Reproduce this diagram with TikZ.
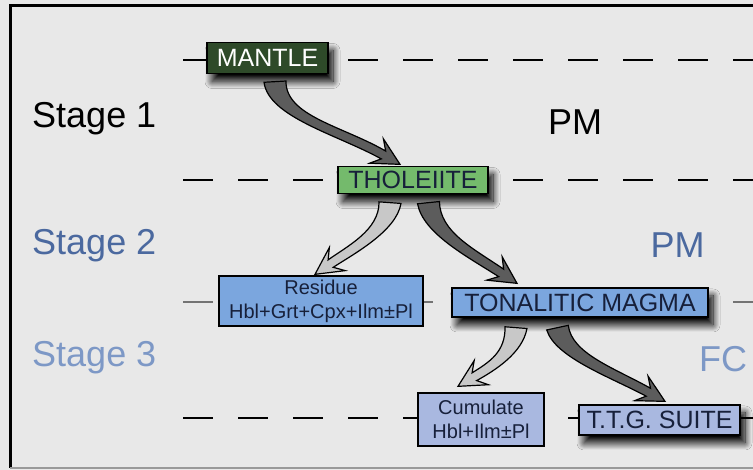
\documentclass[tikz,border=0pt]{standalone}
\usepackage{fontspec}
\setmainfont{Liberation Sans}
\usetikzlibrary{calc,shadows.blur}

\definecolor{bgpanel}{HTML}{E8E8E8}
\definecolor{mantlegreen}{HTML}{2E4A29}
\definecolor{tholgreen}{HTML}{74BA6C}
\definecolor{magmablue}{HTML}{7BA6DE}
\definecolor{cumblue}{HTML}{A9B8E0}
\definecolor{boxtext}{HTML}{17203A}
\definecolor{stagetwo}{HTML}{4B699F}
\definecolor{stagethree}{HTML}{7D98C6}
\definecolor{arrowdark}{HTML}{5C5C5C}
\definecolor{arrowlight}{HTML}{C8C8C8}

\tikzset{
  mainbox/.style={draw=black, line width=1.3pt, inner sep=0pt, text=boxtext,
    font=\fontsize{25}{30}\selectfont,
    blur shadow={shadow xshift=5pt, shadow yshift=-8pt, shadow blur radius=7pt,
      shadow blur steps=14, shadow opacity=100}},
  subbox/.style={draw=black, line width=1.3pt, inner sep=0pt, text=boxtext,
    align=center, font=\fontsize{20}{24}\selectfont},
  stagelabel/.style={anchor=base west, inner sep=0pt, font=\fontsize{36}{40}\selectfont},
  procname/.style={anchor=base, inner sep=0pt, font=\fontsize{36}{40}\selectfont},
  stagerule/.style={line width=1.8pt, dash pattern=on 30pt off 25pt},
}

% tapered block arrow: fill, start, control 1, control 2, tip
\newcommand{\fatarrow}[5]{%
  \coordinate (fa-h) at ($(#5)!19pt!(#4)$);
  \coordinate (fa-b) at ($(#5)!27pt!(#4)$);
  \filldraw[fill=#1, draw=black, line width=1.2pt, line join=miter]
    ($(#2)!11pt!90:(#3)$) .. controls ($(#3)!8.5pt!-90:(#2)$) and ($(#4)!5pt!90:(#5)$) .. ($(fa-h)!4.5pt!90:(#5)$)
    -- ($(fa-b)!14pt!90:(#5)$) -- (#5) -- ($(fa-b)!14pt!-90:(#5)$)
    -- ($(fa-h)!4.5pt!-90:(#5)$) .. controls ($(#4)!5pt!-90:(#5)$) and ($(#3)!8.5pt!90:(#2)$) .. ($(#2)!11pt!-90:(#3)$)
    -- cycle;
}

\begin{document}
\begin{tikzpicture}[x=1pt,y=1pt]
% Background and frame
\fill[bgpanel] (0,0) rectangle (753,470);
\useasboundingbox (0,0) rectangle (753,470);
\draw[line width=3pt] (10,2) -- (10,464) -- (753,464);
\draw[black!40, line width=1.2pt] (10,2) -- (753,2);

% Stage boundaries
\foreach \y/\c in {410/black, 290/black, 168/black!55, 52/black}
  \draw[stagerule, \c] (183,\y) -- (753,\y);

% Stage labels
\node[stagelabel] (stage1) at (32,342) {Stage 1};
\node[stagelabel, text=stagetwo] (stage2) at (32,215) {Stage 2};
\node[stagelabel, text=stagethree] (stage3) at (32,103) {Stage 3};
\node[procname] (pm1) at (575,335) {PM};
\node[procname, text=stagetwo] (pm2) at (677.5,212) {PM};
\node[procname, text=stagethree] (fc) at (723,98) {FC};

% Boxes
\node[mainbox, fill=mantlegreen, text=white, minimum width=121pt, minimum height=31pt] (mantle) at (267.5,412) {MANTLE};
\node[mainbox, fill=tholgreen, minimum width=150pt, minimum height=27pt] (tholeiite) at (413,290) {THOLEIITE};
\node[subbox, fill=magmablue, minimum width=204pt, minimum height=50pt] (residue) at (321,169) {Residue\\Hbl+Grt+Cpx+Ilm±Pl};
\node[mainbox, fill=magmablue, minimum width=256pt, minimum height=29pt] (tonalitic) at (580,167.5) {TONALITIC MAGMA};
\node[subbox, fill=cumblue, minimum width=126pt, minimum height=53pt] (cumulate) at (481,50.5) {Cumulate\\Hbl+Ilm±Pl};
\node[mainbox, fill=cumblue, minimum width=161pt, minimum height=30pt] (ttg) at (659.5,50) {T.T.G. SUITE};

% Arrows
\coordinate (a1s) at ($(mantle.south)+(7.5,-7.5)$);
\coordinate (a1c) at ($(a1s)+(2,-35)$);
\coordinate (a1t) at ($(tholeiite.north)+(-13,1.5)$);
\coordinate (a1d) at ($(a1t)+(-60,34)$);
\fatarrow{arrowdark}{a1s}{a1c}{a1d}{a1t}

\coordinate (a2s) at ($(tholeiite.south)+(-23,-8.5)$);
\coordinate (a2c) at ($(a2s)+(-2,-28)$);
\coordinate (a2t) at ($(residue.north)+(-6,1)$);
\coordinate (a2d) at ($(a2t)+(35,24)$);
\fatarrow{arrowlight}{a2s}{a2c}{a2d}{a2t}

\coordinate (a3s) at ($(tholeiite.south)+(15.5,-8.5)$);
\coordinate (a3c) at ($(a3s)+(3,-30)$);
\coordinate (a3t) at ($(tonalitic.north)+(-63,4)$);
\coordinate (a3d) at ($(a3t)+(-47,31)$);
\fatarrow{arrowdark}{a3s}{a3c}{a3d}{a3t}

\coordinate (a4s) at ($(tonalitic.south)+(-64,-10)$);
\coordinate (a4c) at ($(a4s)+(-2,-25)$);
\coordinate (a4t) at ($(cumulate.north)+(-23,6)$);
\coordinate (a4d) at ($(a4t)+(34,20)$);
\fatarrow{arrowlight}{a4s}{a4c}{a4d}{a4t}

\coordinate (a5s) at ($(tonalitic.south)+(-22.5,-10)$);
\coordinate (a5c) at ($(a5s)+(6,-28)$);
\coordinate (a5t) at ($(ttg.north)+(5.5,3)$);
\coordinate (a5d) at ($(a5t)+(-53,29)$);
\fatarrow{arrowdark}{a5s}{a5c}{a5d}{a5t}
\end{tikzpicture}
\end{document}
